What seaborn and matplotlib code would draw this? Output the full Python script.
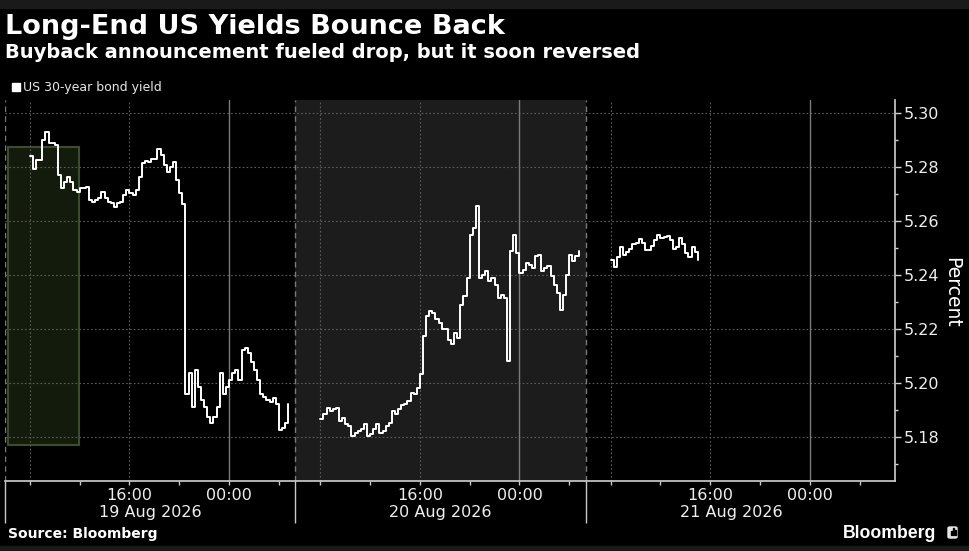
import numpy as np
import pandas as pd
import seaborn as sns
import matplotlib.pyplot as plt
import matplotlib.transforms as mtransforms
from matplotlib.patches import Rectangle, FancyBboxPatch
from matplotlib.ticker import FixedLocator, FixedFormatter

# ---- data ----
day_labels = ['19 Aug 2026', '20 Aug 2026', '21 Aug 2026']
session_len = 23.33     # one trading session on the axis, 06:00 -> 05:20, in hours
first_obs = 2.0         # first print at 08:00 (hours after session open)
step = 0.25             # 15-minute bars

yield_19 = [5.2840, 5.2790, 5.2825, 5.2825, 5.2900, 5.2930, 5.2887, 5.2887,
            5.2880, 5.2770, 5.2720, 5.2745, 5.2763, 5.2745, 5.2714, 5.2708,
            5.2720, 5.2720, 5.2726, 5.2677, 5.2670, 5.2677, 5.2683, 5.2708,
            5.2683, 5.2670, 5.2665, 5.2652, 5.2665, 5.2670, 5.2695, 5.2714,
            5.2702, 5.2695, 5.2714, 5.2763, 5.2813, 5.2822, 5.2819, 5.2827,
            5.2830, 5.2865, 5.2844, 5.2807, 5.2782, 5.2800, 5.2819, 5.2751,
            5.2702, 5.2660, 5.1960, 5.2035, 5.1910, 5.2047, 5.1985, 5.1936,
            5.1911, 5.1874, 5.1850, 5.1874, 5.1911, 5.2035, 5.1960, 5.1985,
            5.2010, 5.2035, 5.2047, 5.2010, 5.2121, 5.2127, 5.2109, 5.2078,
            5.2047, 5.2010, 5.1960, 5.1948, 5.1936, 5.1930, 5.1942, 5.1923,
            5.1825, 5.1831, 5.1850, 5.1923]
yield_20 = [5.1864, 5.1883, 5.1907, 5.1895, 5.1901, 5.1907, 5.1858, 5.1870,
            5.1846, 5.1840, 5.1802, 5.1815, 5.1821, 5.1827, 5.1846, 5.1802,
            5.1809, 5.1827, 5.1846, 5.1815, 5.1821, 5.1840, 5.1852, 5.1895,
            5.1883, 5.1904, 5.1916, 5.1920, 5.1932, 5.1963, 5.1957, 5.1981,
            5.2031, 5.2173, 5.2247, 5.2265, 5.2259, 5.2235, 5.2222, 5.2198,
            5.2198, 5.2160, 5.2142, 5.2185, 5.2167, 5.2289, 5.2320, 5.2388,
            5.2548, 5.2573, 5.2655, 5.2388, 5.2400, 5.2412, 5.2375, 5.2388,
            5.2363, 5.2314, 5.2326, 5.2314, 5.2080, 5.2486, 5.2548, 5.2480,
            5.2406, 5.2418, 5.2443, 5.2437, 5.2425, 5.2468, 5.2474, 5.2412,
            5.2425, 5.2431, 5.2394, 5.2363, 5.2332, 5.2270, 5.2326, 5.2400,
            5.2474, 5.2450, 5.2468, 5.2486]
yield_21 = [5.2454, 5.2430, 5.2467, 5.2504, 5.2473, 5.2485, 5.2494, 5.2514,
            5.2519, 5.2532, 5.2519, 5.2491, 5.2491, 5.2506, 5.2528, 5.2547,
            5.2535, 5.2541, 5.2543, 5.2528, 5.2494, 5.2504, 5.2535, 5.2514,
            5.2479, 5.2467, 5.2504, 5.2485, 5.2454]

# highlighted window around the buyback announcement
box_hours = (0.27, 5.94)
box_yields = (5.177, 5.2874)

y_ticks = [5.18, 5.20, 5.22, 5.24, 5.26, 5.28, 5.30]
y_minor = [5.17, 5.19, 5.21, 5.23, 5.25, 5.27, 5.29]
clock_hours = [2, 6, 10, 14, 18, 22]          # 08:00 ... 04:00
clock_labels = ['', '', '16:00', '', '00:00', '']

frames = []
for i, vals in enumerate([yield_19, yield_20, yield_21]):
    hrs = i * session_len + first_obs + step * np.arange(len(vals))
    frames.append(pd.DataFrame({'hour': hrs, 'yield': vals, 'day': day_labels[i]}))
df = pd.concat(frames, ignore_index=True)

# ---- style ----
sns.set_theme(style='dark')
plt.rcParams['font.family'] = ['DejaVu Sans']
plt.rcParams['axes.facecolor'] = 'black'
plt.rcParams['figure.facecolor'] = 'black'

W, H = 969, 551
fig = plt.figure(figsize=(W / 100, H / 100), dpi=100)
ax = fig.add_axes([5 / W, 70 / H, 890 / W, 381 / H])
ax.set_facecolor('black')

# second session shaded
ax.axvspan(session_len, 2 * session_len, color='#1c1c1c', lw=0, zorder=0)
ax.add_patch(Rectangle((box_hours[0], box_yields[0]), box_hours[1] - box_hours[0],
                       box_yields[1] - box_yields[0], facecolor='#131c0c',
                       edgecolor='#3d4b2f', lw=1.5, zorder=1))

# grid
for y in y_ticks:
    ax.axhline(y, color='#5c5c5c', lw=0.8, ls=(0, (1.5, 2)), zorder=1.5)
for i in range(3):
    off = i * session_len
    ax.axvline(off + 2, color='#5c5c5c', lw=0.8, ls=(0, (1.5, 2)), zorder=1.5)
    ax.axvline(off + 10, color='#5c5c5c', lw=0.8, ls=(0, (1.5, 2)), zorder=1.5)
    ax.axvline(off + 18, color='#7a7a7a', lw=1.0, zorder=1.5)
    ax.axvline(off, color='#7a7a7a', lw=1.0, ls=(0, (4, 3)), zorder=1.5)

sns.lineplot(data=df, x='hour', y='yield', units='day', estimator=None,
             color='white', lw=1.4, drawstyle='steps-post', legend=False,
             ax=ax, zorder=3)

ax.set_xlim(0, 71.5)
ax.set_ylim(5.1636, 5.3047)
ax.set_xlabel('')
ax.set_ylabel('')

# y axis on the right
ax.yaxis.tick_right()
ax.set_yticks(y_ticks)
ax.set_yticklabels([f'{v:.2f}' for v in y_ticks])
ax.yaxis.set_minor_locator(FixedLocator(y_minor))
ax.tick_params(axis='y', which='major', length=4, width=1, color='#d0d0d0',
               labelsize=11.5, labelcolor='#eeeeee', pad=2, right=True, left=False)
ax.tick_params(axis='y', which='minor', length=2.5, width=1, color='#d0d0d0',
               right=True, left=False)

# x axis: long separators as major ticks, clock times as minor ticks
ax.xaxis.set_major_locator(FixedLocator([0, session_len, 2 * session_len]))
ax.xaxis.set_major_formatter(FixedFormatter(['', '', '']))
minor_pos = [i * session_len + h for i in range(3) for h in clock_hours]
ax.xaxis.set_minor_locator(FixedLocator(minor_pos))
ax.xaxis.set_minor_formatter(FixedFormatter(clock_labels * 3))
ax.tick_params(axis='x', which='major', length=30, width=1, color='#c8c8c8',
               bottom=True)
ax.tick_params(axis='x', which='minor', length=3, width=1, color='#c8c8c8',
               labelsize=11.5, labelcolor='#eeeeee', pad=2, bottom=True)

trans = mtransforms.blended_transform_factory(ax.transData, ax.transAxes)
for i, lab in enumerate(day_labels):
    ax.text(i * session_len + session_len / 2, -0.062, lab, transform=trans,
            ha='center', va='top', fontsize=11.5, color='#eeeeee')

for side in ['top', 'left']:
    ax.spines[side].set_visible(False)
for side in ['right', 'bottom']:
    ax.spines[side].set_color('#d0d0d0')
    ax.spines[side].set_linewidth(1.2)
ax.grid(False)

fig.text(952 / W, 0.47, 'Percent', rotation=270, ha='center', va='center',
         fontsize=13.5, color='white')

# titles / legend / footer
fig.text(5 / W, 1 - 34.3 / H, 'Long-End US Yields Bounce Back', fontsize=19.5,
         weight='bold', color='white', va='baseline')
fig.text(5 / W, 1 - 58 / H, 'Buyback announcement fueled drop, but it soon reversed',
         fontsize=14, weight='bold', color='white', va='baseline')
fig.patches.append(Rectangle((12 / W, 1 - 91 / H), 8 / W, 8 / H, color='white',
                             transform=fig.transFigure))
fig.text(23 / W, 1 - 87 / H, 'US 30-year bond yield', fontsize=9,
         color='#e6e6e6', va='center')
fig.text(8 / W, 1 - 538 / H, 'Source: Bloomberg', fontsize=10, weight='bold',
         color='white', va='baseline')
fig.text(843 / W, 1 - 538 / H, 'Bloomberg', fontsize=12.7, weight='bold',
         color='white', va='baseline', family=['Liberation Sans', 'DejaVu Sans'])
fig.patches.append(FancyBboxPatch((948 / W, 1 - 538 / H), 9 / W, 11 / H,
                                  boxstyle='round,pad=0,rounding_size=0.002',
                                  color='#e6e6e6', transform=fig.transFigure))
for bx, bh in [(950.5, 4), (952.5, 7), (954.5, 5)]:
    fig.patches.append(Rectangle((bx / W, 1 - 535 / H), 1 / W, bh / H,
                                 color='black', transform=fig.transFigure))

# thin grey bands at top and bottom edges
fig.patches.append(Rectangle((0, 1 - 8 / H), 1, 8 / H, color='#1a1a1a',
                             transform=fig.transFigure, zorder=0))
fig.patches.append(Rectangle((0, 0), 1, 5 / H, color='#1a1a1a',
                             transform=fig.transFigure, zorder=0))

fig.savefig('out.png', dpi=100, facecolor='black')
